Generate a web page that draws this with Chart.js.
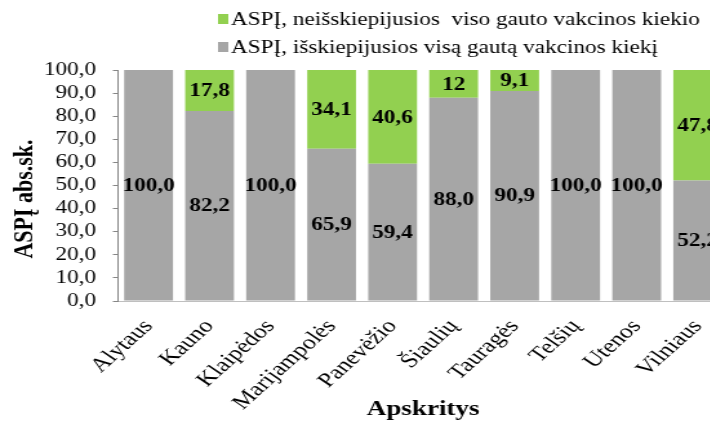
<!DOCTYPE html>
<html lang="lt">
<head>
<meta charset="utf-8">
<title>ASPĮ pagal apskritis</title>
<script src="https://cdn.jsdelivr.net/npm/chart.js@4/dist/chart.umd.min.js"></script>
<style>
  html, body { margin: 0; padding: 0; background: #fff; overflow: hidden; }
  /* the drawing is widened horizontally, like the original slide graphic */
  #wrap { width: 566px; height: 424px; transform: scaleX(1.29); transform-origin: 0 0; }
  #c { display: block; }
</style>
</head>
<body>
<div id="wrap"><canvas id="c" width="566" height="424"></canvas></div>
<script>
// Apskritys (counties)
const categories = ['Alytaus', 'Kauno', 'Klaipėdos', 'Marijampolės', 'Panevėžio',
                    'Šiaulių', 'Tauragės', 'Telšių', 'Utenos', 'Vilniaus'];
// Share of institutions that used the whole vaccine amount received
const usedAll = [100.0, 82.2, 100.0, 65.9, 59.4, 88.0, 90.9, 100.0, 100.0, 52.2];
// Share of institutions that did not use the whole amount
const notUsedAll = [null, 17.8, null, 34.1, 40.6, 12, 9.1, null, null, 47.8];
// Value axis ticks
const yTicks = [0, 10, 20, 30, 40, 50, 60, 70, 80, 90, 100];

const labelUsed = 'ASPĮ, išskiepijusios visą gautą vakcinos kiekį';
const labelNotUsed = 'ASPĮ, neišskiepijusios  viso gauto vakcinos kiekio';
const yTitle = 'ASPĮ abs.sk.';
const xTitle = 'Apskritys';

const GRAY = '#A6A6A6';
const GREEN = '#92D050';
const FONT = '"Liberation Serif", "Times New Roman", serif';

const fmt1 = v => v.toFixed(1).replace('.', ',');
const fmtRaw = v => String(v).replace('.', ',');

// Value labels in the middle of every bar segment
const segmentLabels = {
  id: 'segmentLabels',
  afterDatasetsDraw(chart) {
    const ctx = chart.ctx;
    ctx.save();
    ctx.font = 'bold 18px ' + FONT;
    ctx.fillStyle = '#000';
    ctx.textAlign = 'center';
    ctx.textBaseline = 'middle';
    chart.data.datasets.forEach((ds, i) => {
      const meta = chart.getDatasetMeta(i);
      meta.data.forEach((el, j) => {
        const v = ds.data[j];
        if (v === null || v === undefined) return;
        ctx.fillText(ds.fmt(v), el.x, (el.y + el.base) / 2 + 1);
      });
    });
    ctx.restore();
  }
};

// Two-line legend above the plot, entries left-aligned; vertical axis title
const extras = {
  id: 'extras',
  afterDraw(chart) {
    const ctx = chart.ctx;
    const items = [
      { color: GREEN, text: labelNotUsed, y: 19 },
      { color: GRAY, text: labelUsed, y: 47 }
    ];
    ctx.save();
    ctx.font = '18px ' + FONT;
    ctx.textBaseline = 'middle';
    ctx.textAlign = 'left';
    items.forEach(it => {
      ctx.fillStyle = it.color;
      ctx.fillRect(169, it.y - 5, 8, 10);
      ctx.fillStyle = '#000';
      ctx.fillText(it.text, 179, it.y + 1);
    });
    ctx.restore();

    ctx.save();
    ctx.font = 'bold 22px ' + FONT;
    ctx.fillStyle = '#000';
    ctx.textAlign = 'center';
    ctx.textBaseline = 'middle';
    ctx.translate(19, 199);
    ctx.rotate(-Math.PI / 2);
    ctx.fillText(yTitle, 0, 0);
    ctx.restore();
  }
};

new Chart(document.getElementById('c'), {
  type: 'bar',
  data: {
    labels: categories,
    datasets: [
      { label: labelUsed, data: usedAll, backgroundColor: GRAY, fmt: fmt1 },
      { label: labelNotUsed, data: notUsedAll, backgroundColor: GREEN, fmt: fmtRaw }
    ]
  },
  options: {
    responsive: false,
    animation: false,
    devicePixelRatio: 1,
    layout: { padding: { top: 70, right: 1.5, left: 0, bottom: 0 } },
    datasets: { bar: { categoryPercentage: 1.0, barPercentage: 0.8, borderWidth: 0 } },
    plugins: {
      legend: { display: false },
      tooltip: { enabled: false }
    },
    scales: {
      x: {
        stacked: true,
        grid: { drawOnChartArea: false, drawTicks: false },
        border: { display: true, color: '#BFBFBF', width: 1 },
        ticks: {
          color: '#000',
          font: { family: FONT, size: 20 },
          minRotation: 49,
          maxRotation: 49,
          padding: 14,
          autoSkip: false
        },
        title: {
          display: true,
          text: xTitle,
          color: '#000',
          font: { family: FONT, size: 21, weight: 'bold' },
          padding: { top: 0, bottom: 2 }
        },
        afterFit(scale) {
          scale.height = 123;
          scale.paddingLeft = 0;
          scale.paddingRight = 0;
        }
      },
      y: {
        stacked: true,
        min: 0,
        max: 100,
        afterBuildTicks(scale) { scale.ticks = yTicks.map(v => ({ value: v })); },
        grid: { drawOnChartArea: false, drawTicks: true, tickLength: 4, color: '#868686' },
        border: { display: true, color: '#868686', width: 1 },
        ticks: {
          color: '#000',
          font: { family: FONT, size: 18 },
          padding: 13,
          autoSkip: false,
          callback: v => fmt1(v)
        },
        afterFit(scale) {
          scale.width = 91.5;
          scale.paddingTop = 0;
          scale.paddingBottom = 0;
        }
      }
    }
  },
  plugins: [segmentLabels, extras]
});
</script>
</body>
</html>
